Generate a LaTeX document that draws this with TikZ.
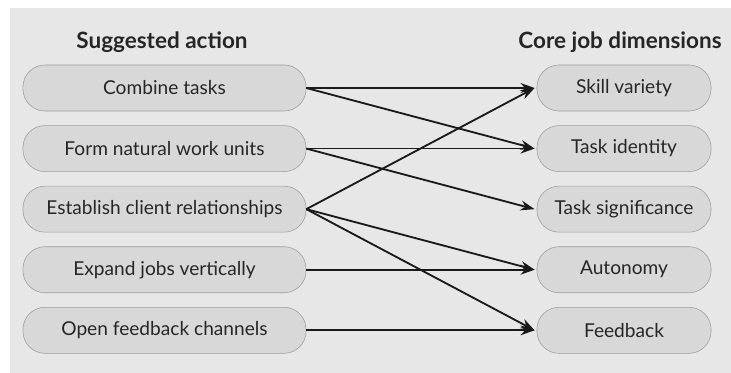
\documentclass[tikz,border=0pt]{standalone}
\usepackage{fontspec}
\setmainfont{Lato}
\usepackage{tikz}
\usetikzlibrary{positioning,arrows.meta}
\definecolor{bg}{HTML}{E7E7E7}
\definecolor{boxfill}{HTML}{D8D8D8}
\definecolor{boxline}{HTML}{9C9C9C}
\definecolor{ink}{HTML}{262626}
\tikzset{A/.style={draw=boxline, fill=boxfill, rounded corners=0.55cm, text=ink,
    minimum width=7.075cm, minimum height=1.15cm, font=\fontsize{13.6}{15}\selectfont}}
\tikzset{D/.style={A, minimum width=4.35cm}}
\tikzset{H/.style={text=ink, font=\fontsize{16}{18}\selectfont\bfseries}}
\tikzset{L/.style={line width=1.3pt, black!90, -{Stealth[length=10pt,width=7pt]}}}

\begin{document}
\begin{tikzpicture}[x=0.025cm, y=-0.025cm]
    \useasboundingbox (0,0) rectangle (731,373);
    \fill[bg] (10,8) rectangle (731,373);

    \node[H] (hl) at (162,42) {Suggested action};
    \node[H] (hr) at (620,42) {Core job dimensions};

    % suggested actions
    \node[A] (a1) at (164.5,88) {Combine tasks};
    \node[A, below=0.35cm of a1] (a2) {Form natural work units};
    \node[A, below=0.35cm of a2] (a3) {Establish client relationships};
    \node[A, below=0.35cm of a3] (a4) {Expand jobs vertically};
    \node[A, below=0.35cm of a4] (a5) {Open feedback channels};

    % core job dimensions
    \node[D] (d1) at (624,88) {Skill variety};
    \node[D, below=0.35cm of d1] (d2) {Task identity};
    \node[D, below=0.35cm of d2] (d3) {Task significance};
    \node[D, below=0.35cm of d3] (d4) {Autonomy};
    \node[D, below=0.35cm of d4] (d5) {Feedback};

    \draw[L] (a1.east) -- ([xshift=-1.5pt]d1.west);
    \draw[L] (a1.east) -- ([xshift=-1.5pt]d2.west);
    \draw[L] (a2.east) -- ([xshift=-1.5pt]d2.west);
    \draw[L] (a2.east) -- ([xshift=-1.5pt]d3.west);
    \draw[L] (a3.east) -- ([xshift=-1.5pt]d1.west);
    \draw[L] (a3.east) -- ([xshift=-1.5pt]d4.west);
    \draw[L] (a3.east) -- ([xshift=-1.5pt]d5.west);
    \draw[L] (a4.east) -- ([xshift=-1.5pt]d4.west);
    \draw[L] (a5.east) -- ([xshift=-1.5pt]d5.west);
\end{tikzpicture}
\end{document}
